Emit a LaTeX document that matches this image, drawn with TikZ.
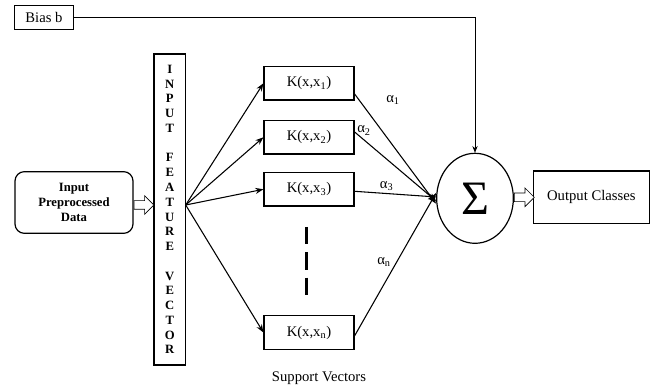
\documentclass[tikz,border=0pt]{standalone}
\usepackage{fontspec}
\setmainfont{Liberation Serif}
\usetikzlibrary{positioning}
\usetikzlibrary{calc}
\usetikzlibrary{arrows.meta}
\usetikzlibrary{shapes.geometric}
\usetikzlibrary{shapes.arrows}

\tikzset{
  box/.style={draw, line width=0.9pt, inner sep=0pt, font=\fontsize{11}{13}\selectfont},
  kbox/.style={box, minimum width=67.5pt, minimum height=25pt},
  hollow/.style={single arrow, draw, line width=0.5pt, fill=white, inner sep=3pt, minimum height=15pt, single arrow head extend=3.75pt, single arrow tip angle=90, anchor=tail},
  conn/.style={line width=0.8pt, -{Stealth[length=6pt,width=4.5pt]}},
  lbl/.style={inner sep=0.75pt, font=\fontsize{11}{13}\selectfont},
}

\begin{document}
\begin{tikzpicture}[x=0.75pt,y=0.75pt,yscale=-1,xscale=1]
\useasboundingbox (0,0) rectangle (656,388); %keep the page at 656 x 388

%Shape: Rectangle (bias)
\node[box, minimum width=44.25pt, minimum height=18pt] (bias) at (44,17.5) {Bias b};
%Shape: Rounded Rect (input data)
\node[box, rounded corners=7pt, minimum width=88.5pt, minimum height=46.25pt, align=center, font=\bfseries\fontsize{9.5}{11.25}\selectfont] (input) at (74,202.5) {Input\\Preprocessed\\Data};
%Shape: Rectangle (feature vector)
\node[box, minimum width=23.75pt, minimum height=233.25pt, align=center, font=\bfseries\fontsize{9.5}{11.08}\selectfont] (feature) at (169.8,209.5) {I\\N\\P\\U\\T\\[11.08pt]F\\E\\A\\T\\U\\R\\E\\[11.08pt]V\\E\\C\\T\\O\\R};
\coordinate (fan) at (185.7,205);

%Shape: Rectangle (kernels)
\node[kbox] (K1) at (309,83.3) {K(x,x\textsubscript{1})};
\node[kbox] (K2) at (309,137.3) {K(x,x\textsubscript{2})};
\node[kbox] (K3) at (309,189.3) {K(x,x\textsubscript{3})};
\node[kbox] (Kn) at (309,332.5) {K(x,x\textsubscript{n})};

%Shape: Ellipse (sum)
\node[draw, ellipse, line width=0.9pt, inner sep=0pt, minimum width=57.5pt, minimum height=67.5pt, font=\fontsize{36}{36}\selectfont] (sum) at (475,198.3) {Σ};
%Shape: Rectangle (output)
\node[box, minimum width=87pt, minimum height=39.25pt] (output) at (591.3,197.2) {Output Classes};

%Block Arrows
\node[hollow] (inarrow) at (input.east |- fan) {};
\node[hollow] (outarrow) at ($(sum.east)+(0,-1)$) {};

%Straight Lines (bias to sum)
\draw[line width=0.5pt, -{Stealth[length=5pt,width=4pt]}] (bias.east) -| (sum.north);

%Straight Lines (fan out)
\draw[conn] (fan) -- (K1.west);
\draw[conn] (fan) -- (K2.west);
\draw[conn] (fan) -- (K3.west);
\draw[conn] (fan) -- (Kn.west);

%Straight Lines (weights)
\draw[conn] ([yshift=8pt]K1.east) -- ([yshift=4pt]sum.west);
\draw[conn] ([yshift=-4pt]K2.east) -- ([yshift=2pt]sum.west);
\draw[conn] ([yshift=1.5pt]K3.east) -- ([yshift=-1pt]sum.west);
\draw[conn] ([yshift=2.5pt]Kn.east) -- ([yshift=-4pt]sum.west);

%Straight Lines (dashes)
\draw[line width=2pt, dash pattern=on 13pt off 6pt] (306.7,227) -- (306.7,295);

% Text Node
\node[lbl] (a1) at (393,100) {α\textsubscript{1}};
% Text Node
\node[lbl] (a2) at (364,130.5) {α\textsubscript{2}};
% Text Node
\node[lbl] (a3) at (386.7,186) {α\textsubscript{3}};
% Text Node
\node[lbl] (an) at (384,262) {α\textsubscript{n}};
% Text Node
\node[lbl] (sv) at (319,378) {Support Vectors};

\end{tikzpicture}
\end{document}
